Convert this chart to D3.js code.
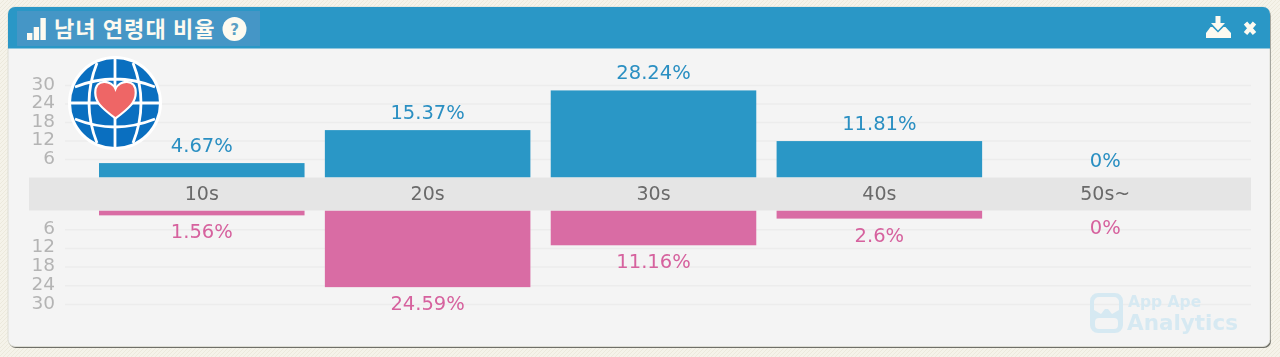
<!DOCTYPE html>
<html>
<head>
<meta charset="utf-8">
<script src="https://cdn.jsdelivr.net/npm/d3@7"></script>
<style>
html, body { margin: 0; padding: 0; background: #f3f0e6; overflow: hidden; }
svg { display: block; filter: blur(0.55px); }
text { font-family: "DejaVu Sans", sans-serif; }
</style>
</head>
<body>
<script>
var ageGroups = ["10s", "20s", "30s", "40s", "50s~"];
var maleValues = [4.67, 15.37, 28.24, 11.81, 0];
var femaleValues = [1.56, 24.59, 11.16, 2.6, 0];
var tickValues = [6, 12, 18, 24, 30];
var chartTitle = "남녀 연령대 비율";

var w = 1280;
var h = 357;
var blue = "#2a97c6";
var pink = "#d96ca4";

var svg = d3.select("body").append("svg")
    .attr("width", w)
    .attr("height", h);

// hatched page background
var hatch = svg.append("defs").append("pattern")
    .attr("id", "hatch")
    .attr("width", 4).attr("height", 4)
    .attr("patternUnits", "userSpaceOnUse");
hatch.append("rect").attr("width", 4).attr("height", 4).attr("fill", "#f5f3ea");
hatch.append("path").attr("d", "M0,4L4,0").attr("stroke", "#ece9dc").attr("stroke-width", 1);
svg.append("rect").attr("width", w).attr("height", h).attr("fill", "url(#hatch)");

// panel
svg.append("rect").attr("x", 9).attr("y", 9).attr("width", 1262).attr("height", 339)
    .attr("rx", 7).attr("fill", "#6f6f68");
svg.append("rect").attr("x", 8).attr("y", 7).attr("width", 1262).attr("height", 339.5)
    .attr("rx", 7).attr("fill", "#f4f4f4").attr("stroke", "#dcdcd4");
svg.append("path")
    .attr("d", "M8,48.5V14a7,7 0 0 1 7,-7H1263a7,7 0 0 1 7,7V48.5Z")
    .attr("fill", blue);
svg.append("rect").attr("x", 17).attr("y", 11).attr("width", 243).attr("height", 35)
    .attr("fill", "#4596c6");

// title bar contents
var signal = svg.append("g").attr("fill", "#fdfaf0");
signal.selectAll("rect")
    .data([7, 13, 22])
    .enter()
    .append("rect")
    .attr("x", function(d, i) { return 27 + i * 6.7; })
    .attr("y", function(d) { return 40 - d; })
    .attr("width", 5.4)
    .attr("height", function(d) { return d; });
svg.append("text").text(chartTitle)
    .attr("x", 54).attr("y", 37)
    .attr("font-size", 22).attr("font-weight", 700)
    .attr("letter-spacing", 1.1)
    .style("font-family", "'Noto Sans CJK KR'")
    .attr("fill", "#fdfaf0");
svg.append("circle").attr("cx", 234.5).attr("cy", 29).attr("r", 12).attr("fill", "#fdfaf0");
svg.append("text").text("?")
    .attr("x", 234.5).attr("y", 34.5)
    .attr("text-anchor", "middle")
    .attr("font-size", 15).attr("font-weight", 700)
    .attr("fill", "#5a9fc4");

svg.append("path") // download icon
    .attr("d", "M1215.5,16h5v7h4.5l-7,7.5l-7,-7.5h4.5ZM1206,38v-5l4.5,-6h2l5.5,5.5l5.5,-5.5h2l5.5,6v5Z")
    .attr("fill", "#fdfaf0");
svg.append("path") // close icon
    .attr("d", "M1245.5,23L1254.5,33.5M1254.5,23L1245.5,33.5")
    .attr("stroke", "#fdfaf0").attr("stroke-width", 4.5);

// scales
var x = d3.scaleBand()
    .domain(ageGroups)
    .range([99, 1208])
    .paddingInner(0.09)
    .paddingOuter(0);
var yUp = d3.scaleLinear().domain([0, 30]).range([177.5, 85]);
var yDown = d3.scaleLinear().domain([0, 30]).range([210.5, 304]);

// axes with the long ticks as grid lines
function drawAxis(scale) {
    var g = svg.append("g")
        .attr("transform", "translate(65,0)")
        .call(d3.axisLeft(scale).tickValues(tickValues).tickSize(-1186).tickPadding(10));
    g.select(".domain").remove();
    g.selectAll("line").attr("stroke", "#ececec").attr("stroke-width", 1.5);
    g.selectAll("text")
        .attr("fill", "#b4b4b4")
        .attr("font-size", 18.5)
        .attr("dy", "0.22em")
        .style("font-family", "'DejaVu Sans'");
}
drawAxis(yUp);
drawAxis(yDown);

// male bars
svg.append("g").selectAll("rect")
    .data(maleValues)
    .enter()
    .append("rect")
    .attr("x", function(d, i) { return x(ageGroups[i]); })
    .attr("y", function(d) { return yUp(d); })
    .attr("width", x.bandwidth())
    .attr("height", function(d) { return yUp(0) - yUp(d); })
    .attr("fill", blue);

// female bars
svg.append("g").selectAll("rect")
    .data(femaleValues)
    .enter()
    .append("rect")
    .attr("x", function(d, i) { return x(ageGroups[i]); })
    .attr("y", yDown(0))
    .attr("width", x.bandwidth())
    .attr("height", function(d) { return yDown(d) - yDown(0); })
    .attr("fill", pink);

// centre band with the age labels
svg.append("rect").attr("x", 29).attr("y", 177.5).attr("width", 1222).attr("height", 33)
    .attr("fill", "#e5e5e5");
svg.append("g").selectAll("text")
    .data(ageGroups)
    .enter()
    .append("text")
    .text(function(d) { return d; })
    .attr("x", function(d) { return x(d) + x.bandwidth() / 2; })
    .attr("y", 200)
    .attr("text-anchor", "middle")
    .attr("font-size", 19)
    .attr("fill", "#6a6a6a");

// value labels
svg.append("g").selectAll("text")
    .data(maleValues)
    .enter()
    .append("text")
    .text(function(d) { return d + "%"; })
    .attr("x", function(d, i) { return x(ageGroups[i]) + x.bandwidth() / 2; })
    .attr("y", function(d) { return yUp(d) - 11; })
    .attr("text-anchor", "middle")
    .attr("font-size", 19.5)
    .attr("fill", "#2a8fc2");
svg.append("g").selectAll("text")
    .data(femaleValues)
    .enter()
    .append("text")
    .text(function(d) { return d + "%"; })
    .attr("x", function(d, i) { return x(ageGroups[i]) + x.bandwidth() / 2; })
    .attr("y", function(d) { return yDown(d) + 23; })
    .attr("text-anchor", "middle")
    .attr("font-size", 19.5)
    .attr("fill", "#d6629e");

// globe logo
var logo = svg.append("g").attr("transform", "translate(115,103)");
logo.append("circle").attr("r", 47).attr("fill", "#fff");
logo.append("circle").attr("r", 44).attr("fill", "#0a6fc0");
logo.append("path")
    .attr("d", "M0,-44V44M-44,0H44M-18,-40Q-34,0 -18,40M18,-40Q34,0 18,40M-40,-16Q0,-32 40,-16M-40,16Q0,32 40,16")
    .attr("fill", "none").attr("stroke", "#fff").attr("stroke-width", 2.8);
logo.append("path")
    .attr("d", "M0,20C-16,8 -22,2 -22,-8C-22,-24 -4,-22 0,-12C4,-22 22,-24 22,-8C22,2 16,8 0,20Z")
    .attr("transform", "translate(0.5,-3) scale(0.92)")
    .attr("fill", "#ee6666").attr("stroke", "#fff").attr("stroke-width", 2.4);

// watermark
var mark = svg.append("g").attr("fill", "#d6e9f2");
mark.append("path")
    .attr("fill-rule", "evenodd")
    .attr("d", "M1098,293h17a8,8 0 0 1 8,8v24a8,8 0 0 1 -8,8h-17a8,8 0 0 1 -8,-8v-24a8,8 0 0 1 8,-8ZM1099,297a5,5 0 0 0 -5,5v8l7,4l4,-5h3l4,5l7,-4v-8a5,5 0 0 0 -5,-5ZM1099,318a4,4 0 0 0 -4,4v3a4,4 0 0 0 4,4h15a4,4 0 0 0 4,-4v-3a4,4 0 0 0 -4,-4Z");
mark.append("text").text("App Ape")
    .attr("x", 1128).attr("y", 307)
    .attr("font-size", 15.5).attr("font-weight", 700);
mark.append("text").text("Analytics")
    .attr("x", 1127).attr("y", 330)
    .attr("font-size", 21.5).attr("font-weight", 700);
</script>
</body>
</html>
